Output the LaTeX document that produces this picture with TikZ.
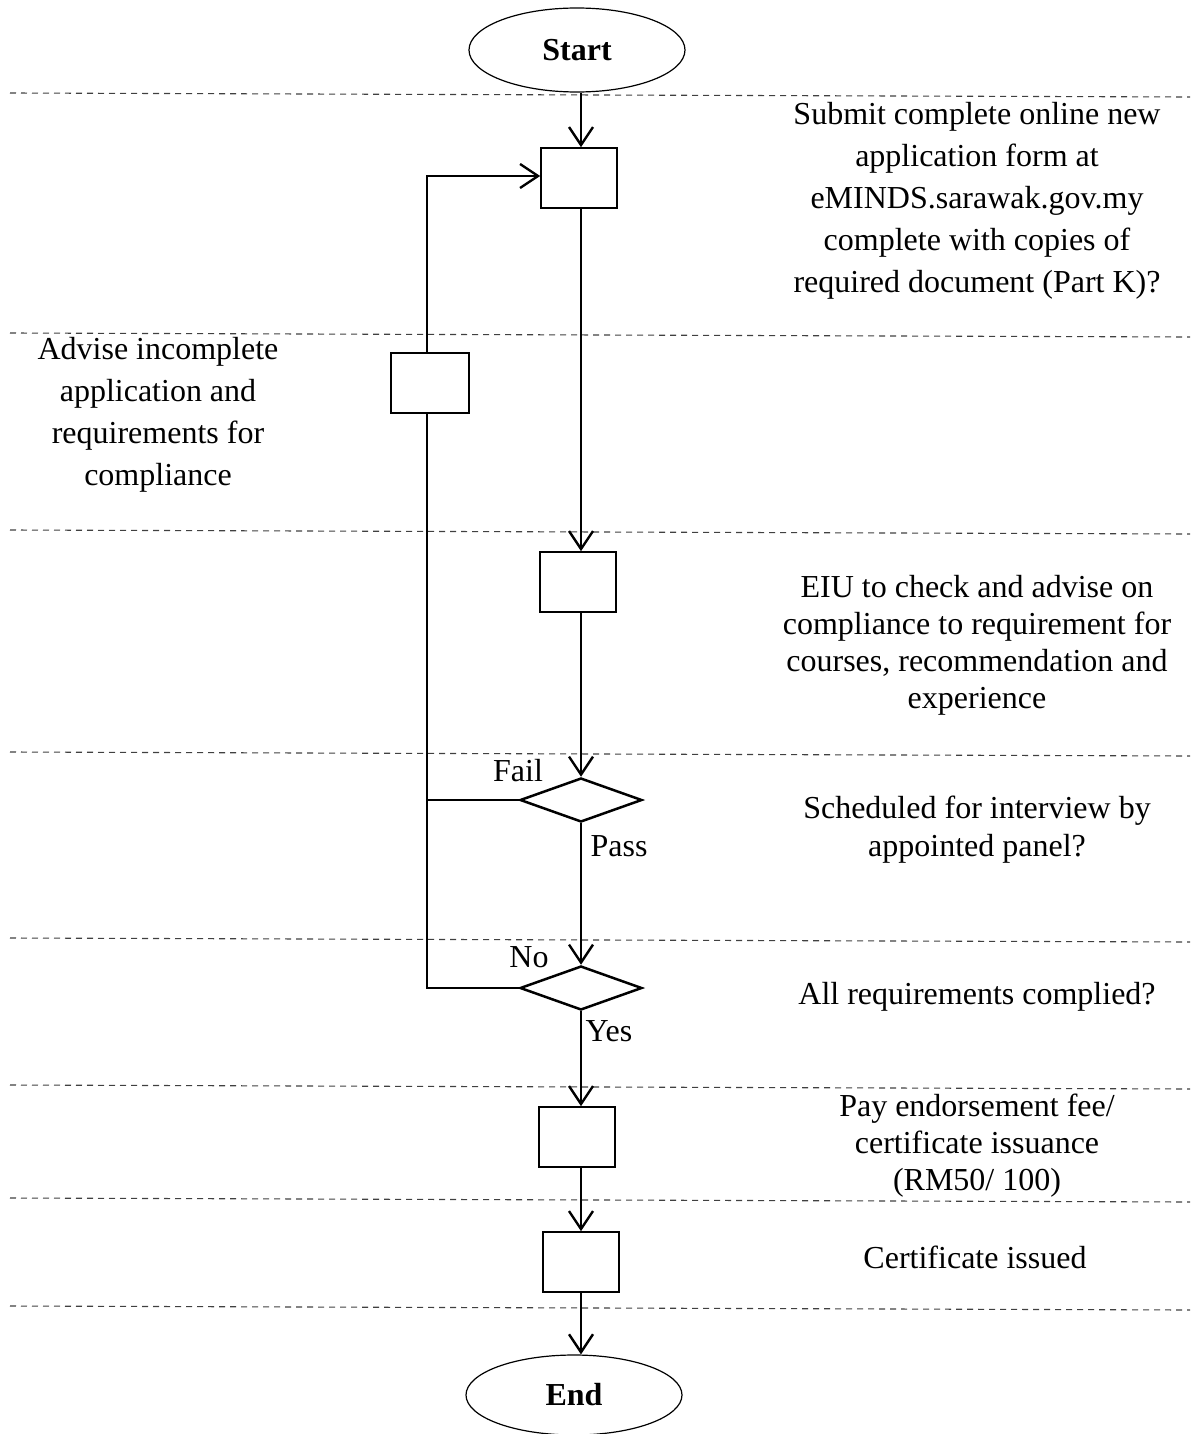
\documentclass[tikz,border=0pt]{standalone}
\usepackage{fontspec}
\setmainfont{Liberation Serif}
\usetikzlibrary{shapes.geometric,arrows.meta}

\tikzset{
  every picture/.style={line join=miter},
  stepline/.style={line width=1.25pt,-{Straight Barb[length=9pt,width=12pt,line width=1.2pt]}},
  sepline/.style={dashed,dash pattern=on 3pt off 2.5pt,line width=0.55pt,black!75}
}

\begin{document}
\begin{tikzpicture}[x=0.5pt,y=-0.5pt,font=\fontsize{16}{21}\selectfont]

      \useasboundingbox (0,0) rectangle (1190,1434);

      % separators
      \foreach \y in {93,333,530,752,938,1085,1198,1306}
        \draw[sepline] (10,\y) -- (1190,\y+4);

      \begin{scope}[every node/.style={draw, fill=white, line width=0.8pt, minimum width=38pt, minimum height=30pt, inner sep=0pt}]
        \node[ellipse, line width=0.6pt, minimum width=108pt, minimum height=42pt] (0) at (577,50) {\textbf{Start}};
        \node (1) at (579,178) {};
        \node (2) at (578,582) {};
        \node[diamond, line width=1.25pt, minimum width=61pt, minimum height=22pt] (3) at (581,800) {};
        \node[diamond, line width=1.25pt, minimum width=61pt, minimum height=22pt] (4) at (581,988) {};
        \node (5) at (577,1137) {};
        \node (6) at (581,1262) {};
        \node[ellipse, line width=0.6pt, minimum width=108pt, minimum height=40pt] (7) at (574,1395) {\textbf{End}};
      \end{scope}

      \coordinate (loop) at (427,176);

      \begin{scope}[every path/.style={stepline}]
        \path (0.south -| 3) edge (1.north -| 3);
        \path (1.south -| 3) edge (2.north -| 3);
        \path (2.south -| 3) edge (3);
        \path (3) edge (4);
        \path (4) edge (5.north -| 3);
        \path (5.south -| 3) edge (6.north -| 3);
        \path (6.south -| 3) edge (7.north -| 3);
        \draw (4.west) -| (loop) -- (loop -| 1.west);
        \draw[-] (3.west) -- (3.west -| loop);
      \end{scope}

      \node[draw, fill=white, line width=0.8pt, minimum width=39pt, minimum height=30pt] (8) at (430,383) {};

      \begin{scope}[every node/.style={align=center}]
        \node (fail) at (518,771) {Fail};
        \node (pass) at (619,846) {Pass};
        \node (no)   at (529,957) {No};
        \node (yes)  at (609,1031) {Yes};

        \node (t1) at (977,201) {Submit complete online new\\ application form at\\ eMINDS.sarawak.gov.my\\ complete with copies of\\ required document (Part K)?};
        \node (t8) at (158,415) {Advise incomplete\\ application and\\ requirements for\\ compliance};
        \node[font=\fontsize{16}{18.5}\selectfont] (t2) at (977,645) {EIU to check and advise on\\ compliance to requirement for\\ courses, recommendation and\\ experience};
        \node[font=\fontsize{16}{19}\selectfont] (t3) at (977,830) {Scheduled for interview by\\ appointed panel?};
        \node (t4) at (977,997) {All requirements complied?};
        \node[font=\fontsize{16}{18.5}\selectfont] (t5) at (977,1146) {Pay endorsement fee/\\ certificate issuance\\ (RM50/ 100)};
        \node (t6) at (975,1257) {Certificate issued};
      \end{scope}

    \end{tikzpicture}
\end{document}
